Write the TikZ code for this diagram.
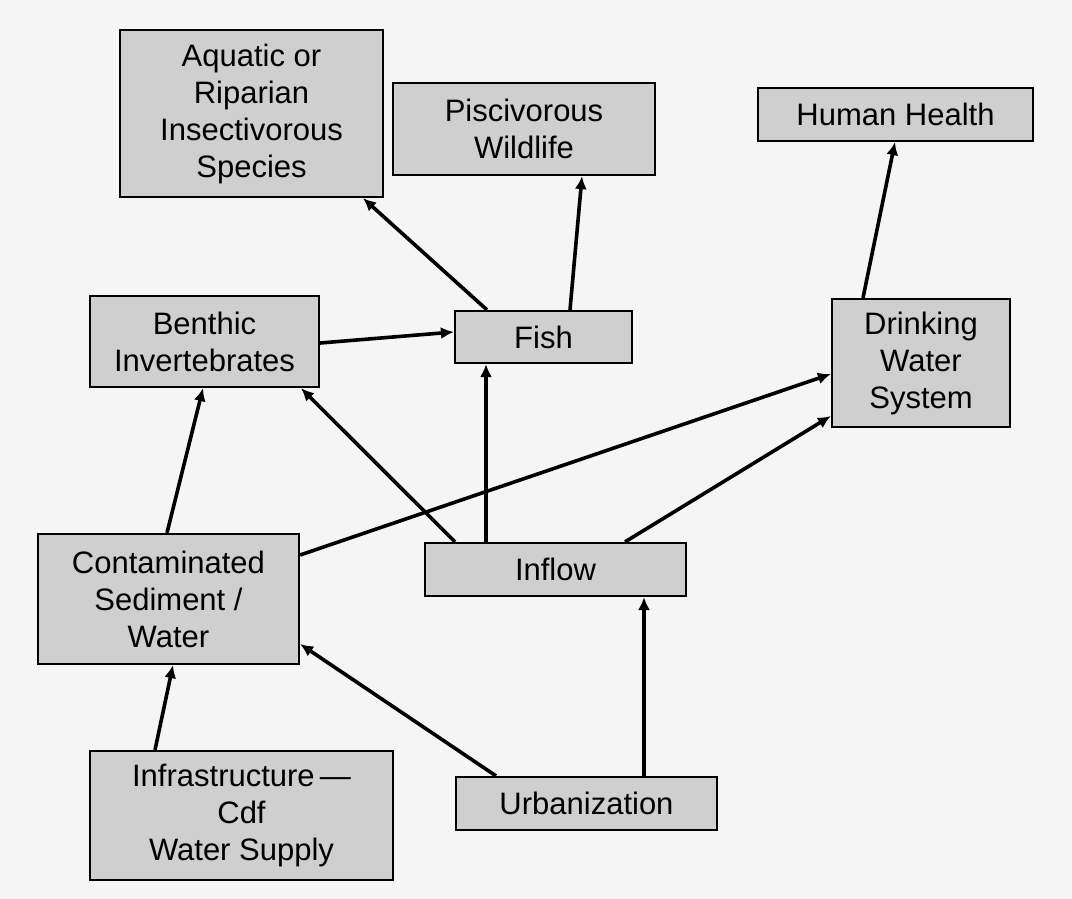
\documentclass[tikz,border=0pt]{standalone}
\usepackage{fontspec}
\setmainfont{Liberation Sans}
\usetikzlibrary{arrows.meta}
\begin{document}
\begin{tikzpicture}[x=1pt,y=-1pt,
  box/.style={draw=black, line width=2.2pt, fill=black!19, inner sep=0pt,
    align=center, font=\fontsize{31}{37}\selectfont},
  link/.style={line width=3.6pt, -{Latex[length=13pt,width=12pt]}}]
  % page
  \fill[black!4] (0,0) rectangle (1072,899);
  \useasboundingbox (0,0) rectangle (1072,899);

  % boxes
  \node[box, minimum width=263pt, minimum height=167pt] (aqua)   at (251.5,113.5) {Aquatic or\\Riparian\\Insectivorous\\Species};
  \node[box, minimum width=262pt, minimum height=92pt]  (pisc)   at (524,129)     {Piscivorous\\Wildlife};
  \node[box, minimum width=275pt, minimum height=53pt]  (human)  at (895.5,114.5) {Human Health};
  \node[box, minimum width=229pt, minimum height=91pt]  (benth)  at (204.5,341.5) {Benthic\\Invertebrates};
  \node[box, minimum width=177pt, minimum height=52pt]  (fish)   at (543.5,337)   {Fish};
  \node[box, minimum width=178pt, minimum height=128pt] (drink)  at (921,363)     {Drinking\\Water\\System};
  \node[box, minimum width=261pt, minimum height=130pt] (contam) at (168.5,599)   {Contaminated\\Sediment /\\Water};
  \node[box, minimum width=261pt, minimum height=53pt]  (inflow) at (555.5,569.5) {Inflow};
  \node[box, minimum width=303pt, minimum height=129pt] (infra)  at (241.5,815.5) {Infrastructure\,---\\Cdf\\Water Supply};
  \node[box, minimum width=261pt, minimum height=53pt]  (urban)  at (586.5,803.5) {Urbanization};

  % connectors
  \draw[link] ([xshift=-56.5pt]fish.north) -- ([xshift=111.5pt]aqua.south);
  \draw[link] ([xshift=26.5pt]fish.north) -- ([xshift=58pt]pisc.south);
  \draw[link] ([yshift=-1.5pt]benth.east) -- ([yshift=5pt]fish.west);
  \draw[link] ([xshift=-69.5pt]inflow.north) -- ([xshift=-57.5pt]fish.south);
  \draw[link] ([xshift=-100.5pt]inflow.north) -- ([xshift=96.5pt]benth.south);
  \draw[link] ([xshift=69.5pt]inflow.north) -- ([yshift=-53pt]drink.west);
  \draw[link] ([yshift=44pt]contam.east) -- ([yshift=-11pt]drink.west);
  \draw[link] ([xshift=-1.5pt]contam.north) -- ([xshift=-1.5pt]benth.south);
  \draw[link] ([xshift=-86.5pt]infra.north) -- ([xshift=4.5pt]contam.south);
  \draw[link] ([xshift=-90.5pt]urban.north) -- ([yshift=-45pt]contam.east);
  \draw[link] ([xshift=57.5pt]urban.north) -- ([xshift=88.5pt]inflow.south);
  \draw[link] ([xshift=-58pt]drink.north) -- ([xshift=-0.5pt]human.south);
\end{tikzpicture}
\end{document}
